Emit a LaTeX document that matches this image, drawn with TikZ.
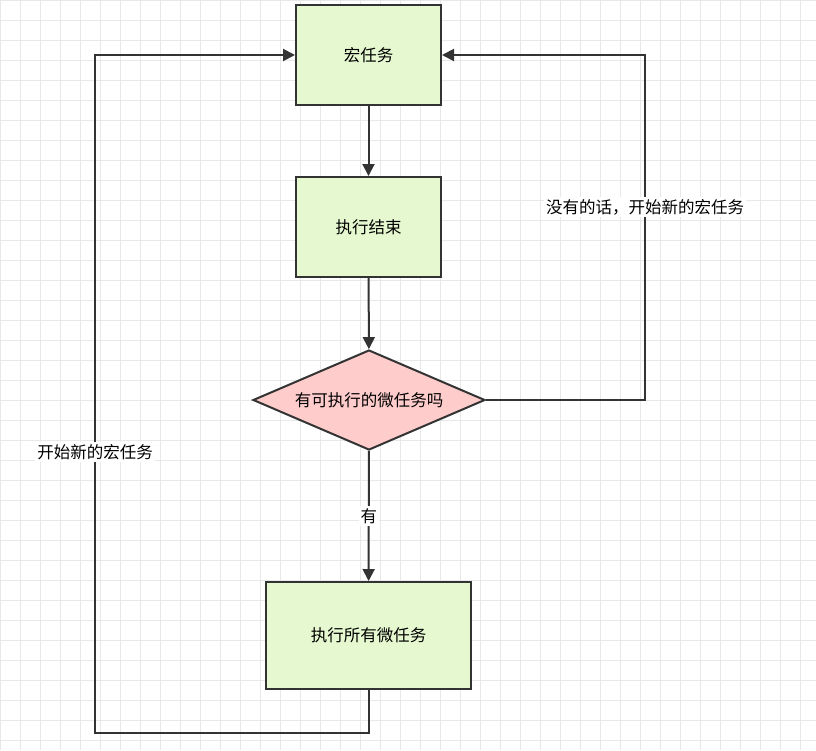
\documentclass[tikz,border=0pt]{standalone}
\usepackage{fontspec}
\setmainfont{Noto Sans CJK SC}
\usetikzlibrary{shapes.geometric,arrows.meta}
\definecolor{boxg}{HTML}{E5F8CF}
\definecolor{boxp}{HTML}{FFCCCC}
\definecolor{ln}{HTML}{333333}
\begin{document}
\begin{tikzpicture}[x=1pt,y=-1pt,
  box/.style={draw=ln,line width=2pt,fill=boxg,minimum width=145pt,minimum height=100pt,inner sep=0pt,font=\fontsize{16.5}{20}\selectfont},
  dia/.style={diamond,aspect=2.33,draw=ln,line width=2pt,fill=boxp,minimum width=232pt,minimum height=100pt,inner sep=0pt,font=\fontsize{16.5}{20}\selectfont},
  arr/.style={draw=ln,line width=2pt,-{Triangle[length=12pt,width=12pt]}},
  lab/.style={fill=white,font=\fontsize{16.5}{20}\selectfont,inner sep=2pt}]
\useasboundingbox (0,0) rectangle (816,750);
\fill[white] (0,0) rectangle (816,750);
\foreach \x in {0,20,...,816} \draw[gray!18,line width=0.5pt] (\x,0) -- (\x,750);
\foreach \y in {0,20,...,750} \draw[gray!18,line width=0.5pt] (0,\y) -- (816,\y);
\node[box] (a) at (368.5,55) {宏任务};
\node[box] (b) at (368.5,227) {执行结束};
\node[dia] (c) at (369,400) {有可执行的微任务吗};
\node[box,minimum width=205pt,minimum height=107pt] (d) at (368.5,635.5) {执行所有微任务};
\coordinate (l1) at (368.5,733);
\coordinate (l2) at (95,733);
\coordinate (l3) at (95,55);
\coordinate (r1) at (645,400);
\coordinate (r2) at (645,55);
\draw[arr] (a) -- (b);
\draw[arr] (b) -- (c);
\draw[arr] (c) -- node[lab,pos=0.5]{有} (d);
\draw[arr] (d) -- (l1) -- (l2) -- (l3) -- (a);
\draw[arr] (c) -- (r1) -- (r2) -- (a);
\node[lab] (lt) at (95,452) {开始新的宏任务};
\node[lab] (rt) at (645,207) {没有的话，开始新的宏任务};
\end{tikzpicture}
\end{document}
